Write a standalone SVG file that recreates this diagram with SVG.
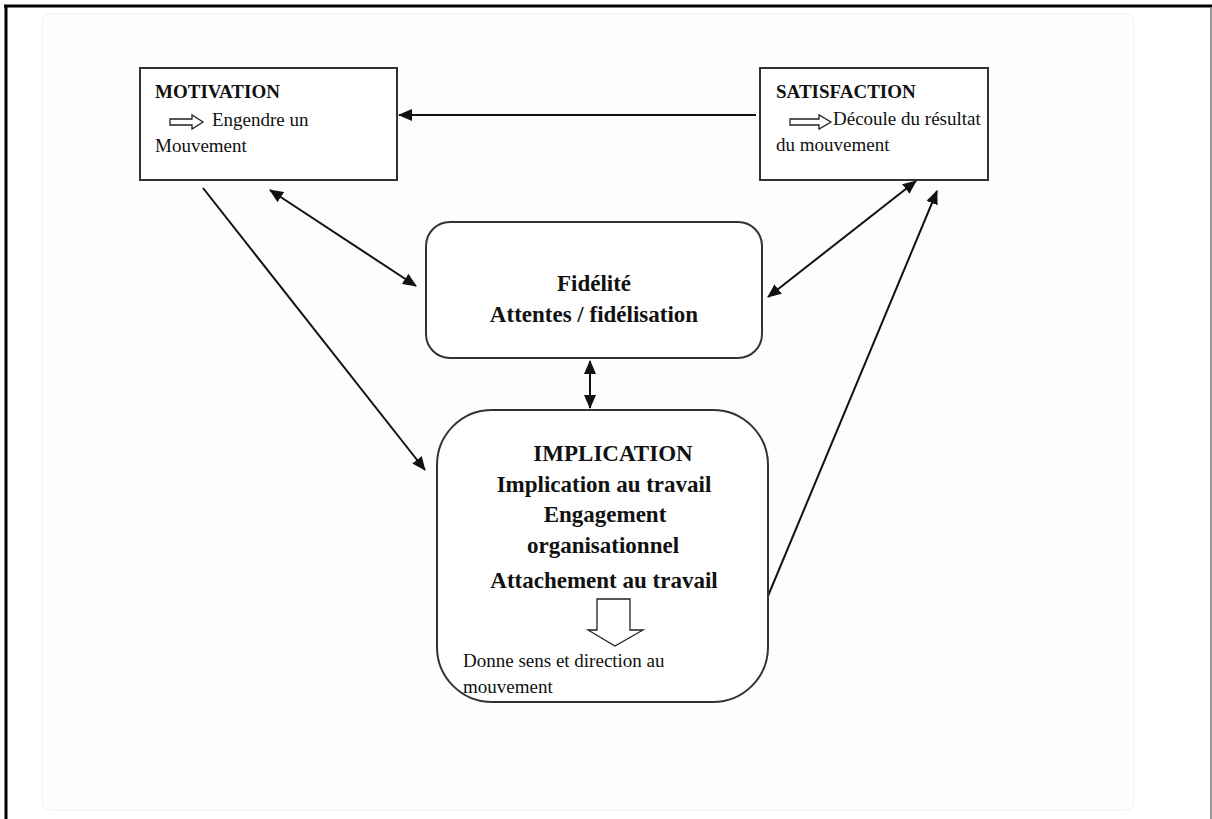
<svg xmlns="http://www.w3.org/2000/svg" width="1212" height="819" viewBox="0 0 1212 819">
  <style>
    .t{font-family:"Liberation Serif","Times New Roman",serif;fill:#111}
    .b{font-weight:bold}
    .s19{font-size:19px}
    .s23{font-size:23px}
    .box{fill:#fff;stroke:#333;stroke-width:2}
    .hollow{fill:#fff;stroke:#222;stroke-width:1.3;stroke-linejoin:miter}
    #connectors line{stroke:#111;stroke-width:2}
  </style>
  <defs>
    <marker id="ah" viewBox="0 0 14 12" refX="13" refY="6" markerWidth="14" markerHeight="12" markerUnits="userSpaceOnUse" orient="auto-start-reverse">
      <path d="M0,0 L14,6 L0,12 Z" fill="#111"/>
    </marker>
  </defs>

  <!-- page and frame -->
  <rect x="0" y="0" width="1212" height="819" fill="#fff"/>
  <rect x="42" y="14" width="1092" height="796" rx="8" fill="#fdfdfd" stroke="#f1f1f1" stroke-width="1"/>
  <line x1="4" y1="6" x2="1212" y2="6" stroke="#000" stroke-width="3"/>
  <line x1="6" y1="5" x2="6" y2="819" stroke="#000" stroke-width="3"/>
  <line x1="1211" y1="7" x2="1211" y2="819" stroke="#777" stroke-width="1.5"/>

  <!-- connectors -->
  <g id="connectors">
    <line x1="756" y1="115" x2="399" y2="115" marker-end="url(#ah)"/>
    <line x1="203" y1="188" x2="425" y2="470" marker-end="url(#ah)"/>
    <line x1="270" y1="190" x2="416" y2="286" marker-start="url(#ah)" marker-end="url(#ah)"/>
    <line x1="768" y1="297" x2="916" y2="181" marker-start="url(#ah)" marker-end="url(#ah)"/>
    <line x1="590" y1="361" x2="590" y2="408" marker-start="url(#ah)" marker-end="url(#ah)"/>
    <line x1="768" y1="596" x2="937" y2="191" marker-end="url(#ah)"/>
  </g>

  <!-- MOTIVATION -->
  <g id="motivation">
    <rect class="box" x="140" y="68" width="257" height="112"/>
    <text class="t b s19" x="155" y="98">MOTIVATION</text>
    <path class="hollow" d="M170,119 H192 V115 L203,122 L192,129 V125 H170 Z"/>
    <text class="t s19" x="212" y="126">Engendre un</text>
    <text class="t s19" x="155" y="152">Mouvement</text>
  </g>

  <!-- SATISFACTION -->
  <g id="satisfaction">
    <rect class="box" x="760" y="68" width="228" height="112"/>
    <text class="t b s19" x="776" y="98">SATISFACTION</text>
    <path class="hollow" d="M790,119 H819 V115 L831,122 L819,129 V125 H790 Z"/>
    <text class="t s19" x="833" y="125">Découle du résultat</text>
    <text class="t s19" x="776" y="151">du mouvement</text>
  </g>

  <!-- Fidélité -->
  <g id="fidelite">
    <rect class="box" x="426" y="222" width="336" height="136" rx="24"/>
    <text class="t b s23" x="594" y="291" text-anchor="middle">Fidélité</text>
    <text class="t b s23" x="594" y="322" text-anchor="middle">Attentes / fidélisation</text>
  </g>

  <!-- IMPLICATION -->
  <g id="implication">
    <rect class="box" x="437" y="410" width="331" height="292" rx="55"/>
    <text class="t b s23" x="613" y="461" text-anchor="middle">IMPLICATION</text>
    <text class="t b s23" x="604" y="492" text-anchor="middle">Implication au travail</text>
    <text class="t b s23" x="605" y="522" text-anchor="middle">Engagement</text>
    <text class="t b s23" x="603" y="553" text-anchor="middle">organisationnel</text>
    <text class="t b s23" x="604" y="588" text-anchor="middle">Attachement au travail</text>
    <path class="hollow" d="M597,599 H630 V630 H643 L615,646 L588,630 H597 Z"/>
    <text class="t s19" x="463" y="667">Donne sens et direction au</text>
    <text class="t s19" x="463" y="693">mouvement</text>
  </g>
</svg>
